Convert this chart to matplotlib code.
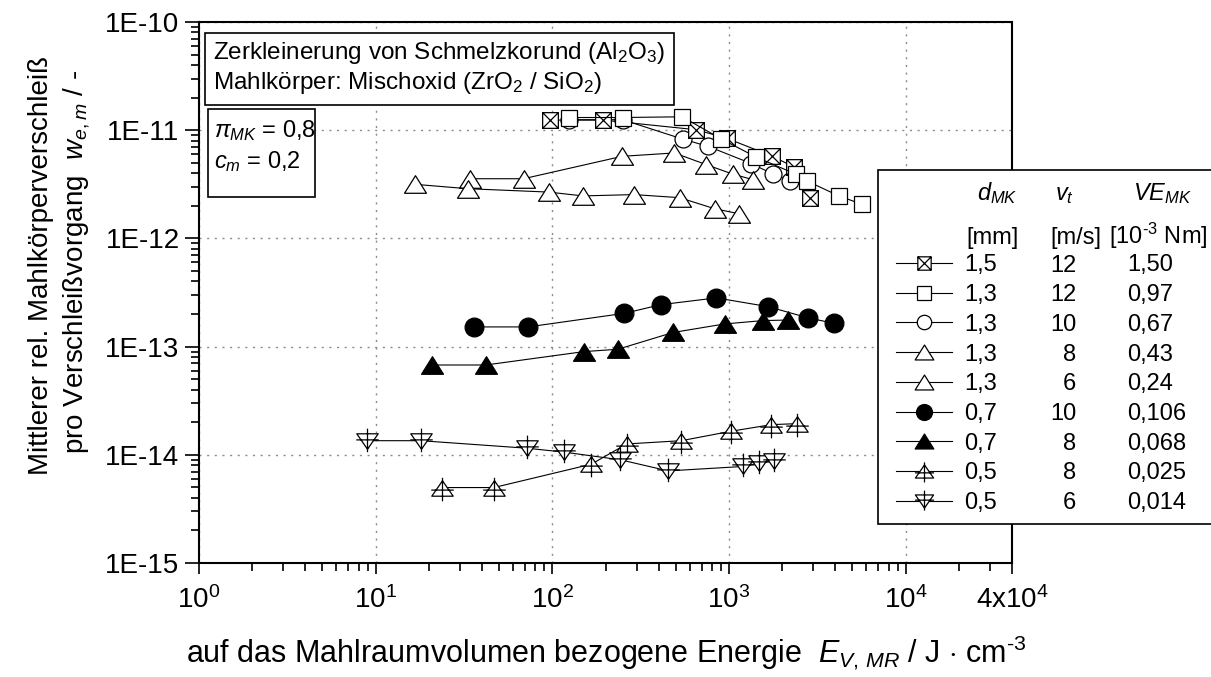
import numpy as np
import matplotlib
matplotlib.use('Agg')
import matplotlib.pyplot as plt
from matplotlib.path import Path
from matplotlib.patches import Rectangle
from matplotlib.ticker import FixedLocator, FixedFormatter, LogLocator, NullFormatter

plt.rcParams['font.family'] = ['Liberation Sans', 'DejaVu Sans']
plt.rcParams['mathtext.fontset'] = 'custom'
plt.rcParams['mathtext.rm'] = 'Liberation Sans'
plt.rcParams['mathtext.it'] = 'Liberation Sans:italic'
plt.rcParams['mathtext.bf'] = 'Liberation Sans:bold'

# volumenbezogene Energie E_V,MR [J/cm^3] und Verschleiss w_e,m [-]
e_15_12 = [96.6, 194, 653, 975, 1762, 2333, 2873]
w_15_12 = [1.24e-11, 1.24e-11, 1.01e-11, 8.4e-12, 5.74e-12, 4.57e-12, 2.38e-12]

e_13_12 = [124, 250, 544, 897, 1418, 2395, 2754, 4190, 5640]
w_13_12 = [1.31e-11, 1.31e-11, 1.33e-11, 8.36e-12, 5.66e-12, 3.92e-12, 3.4e-12, 2.47e-12, 2.07e-12]

e_13_10 = [124, 250, 548, 760, 1341, 1778, 2213]
w_13_10 = [1.25e-11, 1.25e-11, 8.27e-12, 7.1e-12, 4.91e-12, 3.92e-12, 3.4e-12]

e_13_8 = [34.2, 68.7, 249, 491, 745, 1054, 1370]
w_13_8 = [3.56e-12, 3.56e-12, 5.74e-12, 6.16e-12, 4.8e-12, 3.92e-12, 3.49e-12]

e_13_6 = [16.7, 33.2, 95.2, 149, 290, 525, 830, 1140]
w_13_6 = [3.16e-12, 2.88e-12, 2.68e-12, 2.47e-12, 2.54e-12, 2.38e-12, 1.88e-12, 1.69e-12]

e_07_10 = [36.2, 72.8, 256, 411, 848, 1667, 2813, 3954]
w_07_10 = [1.52e-13, 1.52e-13, 2.03e-13, 2.44e-13, 2.82e-13, 2.34e-13, 1.84e-13, 1.64e-13]

e_07_8 = [20.9, 42, 151, 235, 482, 946, 1560, 2163]
w_07_8 = [6.76e-14, 6.76e-14, 8.99e-14, 9.45e-14, 1.35e-13, 1.62e-13, 1.74e-13, 1.76e-13]

e_05_8 = [23.7, 46.7, 166, 264, 537, 1026, 1738, 2415]
w_05_8 = [4.98e-15, 4.98e-15, 8.18e-15, 1.26e-14, 1.35e-14, 1.65e-14, 1.9e-14, 1.94e-14]

e_05_6 = [8.98, 18.0, 72, 116, 243, 453, 1202, 1482, 1791]
w_05_6 = [1.35e-14, 1.35e-14, 1.15e-14, 1.06e-14, 8.99e-15, 7.1e-15, 7.8e-15, 8.4e-15, 8.8e-15]

# Tabelle der Versuchsparameter
d_mk = ['1,5', '1,3', '1,3', '1,3', '1,3', '0,7', '0,7', '0,5', '0,5']
v_t = ['12', '12', '10', '8', '6', '10', '8', '8', '6']
ve_mk = ['1,50', '0,97', '0,67', '0,43', '0,24', '0,106', '0,068', '0,025', '0,014']

x_ticks = [1, 10, 100, 1000, 1e4, 4e4]
x_labels = [r'$10^{0}$', r'$10^{1}$', r'$10^{2}$', r'$10^{3}$', r'$10^{4}$', r'$\mathrm{4x10}^{4}$']
y_ticks = [1e-15, 1e-14, 1e-13, 1e-12, 1e-11, 1e-10]
y_labels = ['1E-15', '1E-14', '1E-13', '1E-12', '1E-11', '1E-10']

M, L, C = Path.MOVETO, Path.LINETO, Path.CLOSEPOLY
box_x = Path([(-1, -1), (1, -1), (1, 1), (-1, 1), (-1, -1), (-1, -1), (1, 1), (-1, 1), (1, -1)],
             [M, L, L, L, C, M, L, M, L])
tri_up = Path([(-1, -0.8), (1, -0.8), (0, 0.8), (-1, -0.8)], [M, L, L, C])
tri_up_plus = Path([(-1, -0.72), (1, -0.72), (0, 0.72), (-1, -0.72),
                    (-1.05, -0.15), (1.05, -0.15), (0, 1.0), (0, -1.2)],
                   [M, L, L, C, M, L, M, L])
tri_dn_plus = Path([(-1, 0.72), (1, 0.72), (0, -0.72), (-1, 0.72),
                    (-1.05, 0.15), (1.05, 0.15), (0, 1.2), (0, -1.0)],
                   [M, L, L, C, M, L, M, L])

series = [
    (e_15_12, w_15_12, dict(marker=box_x, ms=11.3, mfc='white')),
    (e_13_12, w_13_12, dict(marker='s', ms=11.3, mfc='white')),
    (e_13_10, w_13_10, dict(marker='o', ms=12.2, mfc='white')),
    (e_13_8, w_13_8, dict(marker=tri_up, ms=15.8, mfc='white')),
    (e_13_6, w_13_6, dict(marker=tri_up, ms=15.8, mfc='white')),
    (e_07_10, w_07_10, dict(marker='o', ms=13.5, mfc='black')),
    (e_07_8, w_07_8, dict(marker=tri_up, ms=15.8, mfc='black')),
    (e_05_8, w_05_8, dict(marker=tri_up_plus, ms=18.5, mfc='white')),
    (e_05_6, w_05_6, dict(marker=tri_dn_plus, ms=18.5, mfc='white')),
]
draw_order = [2, 0, 3, 4, 1, 5, 6, 7, 8]

W, H = 1211, 677
fig = plt.figure(figsize=(W / 100, H / 100), dpi=100)
ax = fig.add_axes([199 / W, 1 - 563 / H, (1012 - 199) / W, (563 - 22) / H])

for i in draw_order:
    e, w, st = series[i]
    ax.plot(e, w, color='black', lw=0.8, mec='black', mew=0.9, **st)

ax.set_xscale('log')
ax.set_yscale('log')
ax.set_xlim(1, 4e4)
ax.set_ylim(1e-15, 1e-10)
ax.xaxis.set_major_locator(FixedLocator(x_ticks))
ax.xaxis.set_major_formatter(FixedFormatter(x_labels))
ax.xaxis.set_minor_locator(LogLocator(base=10, subs=np.arange(2, 10), numticks=20))
ax.xaxis.set_minor_formatter(NullFormatter())
ax.yaxis.set_major_locator(FixedLocator(y_ticks))
ax.yaxis.set_major_formatter(FixedFormatter(y_labels))
ax.yaxis.set_minor_locator(LogLocator(base=10, subs=np.arange(2, 10), numticks=20))
ax.yaxis.set_minor_formatter(NullFormatter())

ax.tick_params(which='both', direction='out', width=1.2, labelsize=20)
ax.tick_params(axis='x', which='major', length=8, pad=9)
ax.tick_params(axis='x', which='minor', length=5.5)
ax.tick_params(axis='y', which='major', length=10, pad=4)
ax.tick_params(axis='y', which='minor', length=6)
for s in ax.spines.values():
    s.set_linewidth(1.5)

ax.set_axisbelow(True)
ax.grid(True, which='major', color='#8c8c8c', lw=1.0, linestyle=(0, (1.5, 4)))

# Beschriftungen
fig.text(606 / W, 1 - 662 / H,
         r'auf das Mahlraumvolumen bezogene Energie  $E_{V,\,MR}$ / J $\cdot$ cm$^{\text{-3}}$',
         ha='center', va='baseline', fontsize=22)
fig.text(48 / W, 1 - 265 / H, 'Mittlerer rel. Mahlkörperverschleiß', rotation=90,
         rotation_mode='anchor', ha='center', va='baseline', fontsize=20)
fig.text(83 / W, 1 - 262 / H, r'pro Verschleißvorgang  $w_{e,m}$ / -', rotation=90,
         rotation_mode='anchor', ha='center', va='baseline', fontsize=20)

# Overlay in Pixelkoordinaten fuer Textfelder und Legende
ov = fig.add_axes([0, 0, 1, 1], zorder=5)
ov.set_xlim(0, W)
ov.set_ylim(H, 0)
ov.axis('off')

ov.add_patch(Rectangle((205, 33), 674 - 205, 105 - 33, fc='white', ec='black', lw=1.2))
ov.text(213, 59.5, r'Zerkleinerung von Schmelzkorund (Al$_2$O$_3$)', fontsize=17.5, va='baseline')
ov.text(213, 89.5, r'Mahlkörper: Mischoxid (ZrO$_2$ / SiO$_2$)', fontsize=17.5, va='baseline')

ov.add_patch(Rectangle((208, 109), 315 - 208, 197 - 109, fc='white', ec='black', lw=1.2))
ov.text(214, 137, r'$\pi_{MK}$ = 0,8', fontsize=17, va='baseline')
ov.text(214, 168, r'$c_{m}$ = 0,2', fontsize=17, va='baseline')

ov.add_patch(Rectangle((878, 170), 1220 - 878, 524 - 170, fc='white', ec='black', lw=1.2))
ov.text(997, 200, r'$d_{MK}$', fontsize=17, ha='center', va='baseline')
ov.text(1064, 200, r'$v_{t}$', fontsize=17, ha='center', va='baseline')
ov.text(1162, 200, r'$VE_{MK}$', fontsize=17, ha='center', va='baseline')
ov.text(966, 244, '[mm]', fontsize=17, ha='left', va='baseline')
ov.text(1050, 244, '[m/s]', fontsize=17, ha='left', va='baseline')
ov.text(1208, 244, r'[10$^{\text{-3}}$ Nm]', fontsize=17, ha='right', va='baseline')

for i, (e, w, st) in enumerate(series):
    yc = 263 + 29.7 * i
    ov.plot([896, 952], [yc, yc], color='black', lw=0.8)
    lst = dict(st)
    lst['ms'] = st['ms'] * 0.85
    ov.plot([924], [yc], color='black', mec='black', mew=0.9, ls='none', **lst)
    ov.text(964, yc + 8.5, d_mk[i], fontsize=17, ha='left', va='baseline')
    ov.text(1076, yc + 8.5, v_t[i], fontsize=17, ha='right', va='baseline')
    ov.text(1127, yc + 8.5, ve_mk[i], fontsize=17, ha='left', va='baseline')

fig.savefig('out.png', dpi=100)
